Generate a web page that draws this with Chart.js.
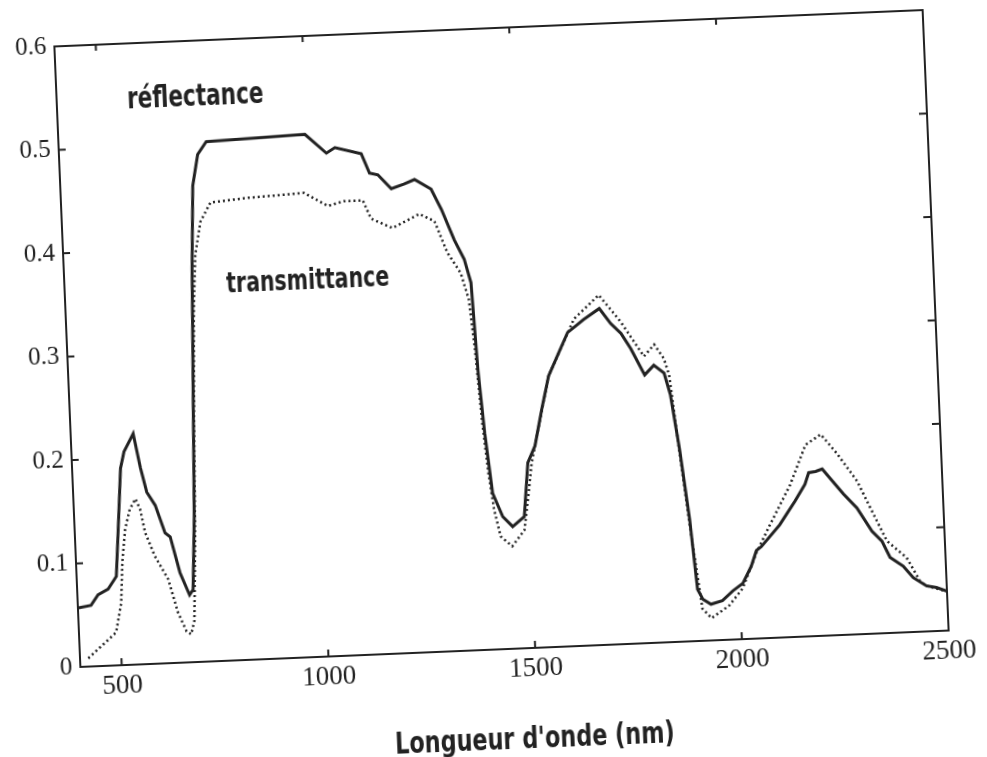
<!DOCTYPE html>
<html>
<head>
<meta charset="utf-8">
<script src="https://cdn.jsdelivr.net/npm/chart.js@4"></script>
<style>
  html, body { margin: 0; padding: 0; background: #fff; overflow: hidden; }
  #wrap {
    position: absolute; left: 0; top: 0; width: 987px; height: 757px;
    transform-origin: 501.5px 338.5px;
    transform: rotate(-2.4deg);
  }
</style>
</head>
<body>
<div id="wrap"><canvas id="myChart" width="987" height="757"></canvas></div>
<script>
// wavelengths (nm) and values
var reflWl = [400, 432, 450, 475, 496, 505, 517, 527, 551, 565, 578, 597, 618, 630, 650, 671, 680, 690, 700, 710, 720, 735, 757, 996, 1046, 1067, 1130, 1148, 1168, 1199, 1230, 1256, 1295, 1318, 1346, 1368, 1382, 1390, 1400, 1413, 1435, 1458, 1487, 1501, 1520, 1540, 1560, 1610, 1650, 1689, 1715, 1739, 1761, 1792, 1815, 1839, 1852, 1869, 1886, 1898, 1910, 1929, 1957, 1983, 2008, 2030, 2044, 2056, 2103, 2142, 2168, 2178, 2195, 2211, 2260, 2291, 2325, 2348, 2366, 2397, 2420, 2451, 2475, 2500];
var reflVal = [0.057, 0.059, 0.069, 0.074, 0.086, 0.13, 0.19, 0.206, 0.223, 0.19, 0.166, 0.153, 0.126, 0.122, 0.087, 0.065, 0.07, 0.14, 0.26, 0.38, 0.46, 0.49, 0.502, 0.505, 0.486, 0.491, 0.484, 0.465, 0.463, 0.449, 0.453, 0.457, 0.447, 0.427, 0.397, 0.378, 0.355, 0.27, 0.209, 0.151, 0.128, 0.118, 0.127, 0.179, 0.195, 0.23, 0.262, 0.303, 0.315, 0.325, 0.31, 0.3, 0.285, 0.259, 0.268, 0.26, 0.239, 0.185, 0.118, 0.05, 0.04, 0.035, 0.038, 0.047, 0.054, 0.07, 0.085, 0.0885, 0.109, 0.131, 0.147, 0.158, 0.159, 0.161, 0.136, 0.122, 0.099, 0.089, 0.073, 0.064, 0.0525, 0.044, 0.042, 0.038];

var transWl = [420, 452, 470, 490, 505, 512, 522, 535, 550, 560, 570, 591, 621, 641, 660, 671, 680, 690, 700, 710, 719, 735, 761, 850, 988, 1044, 1084, 1129, 1147, 1198, 1264, 1300, 1328, 1358, 1375, 1385, 1395, 1405, 1415, 1428, 1455, 1486, 1500, 1510, 1520, 1560, 1627, 1689, 1740, 1792, 1818, 1840, 1851, 1869, 1886, 1908, 1929, 1973, 2007, 2044, 2079, 2132, 2173, 2211, 2249, 2294, 2323, 2360, 2406, 2436, 2451, 2475, 2500];
var transVal = [0.008, 0.019, 0.025, 0.032, 0.06, 0.1, 0.131, 0.15, 0.16, 0.15, 0.127, 0.104, 0.081, 0.049, 0.03, 0.027, 0.04, 0.12, 0.24, 0.34, 0.393, 0.425, 0.443, 0.446, 0.4485, 0.435, 0.439, 0.439, 0.421, 0.411, 0.4235, 0.416, 0.385, 0.365, 0.339, 0.29, 0.22, 0.17, 0.135, 0.109, 0.099, 0.114, 0.15, 0.178, 0.195, 0.262, 0.316, 0.338, 0.311, 0.277, 0.288, 0.274, 0.258, 0.18, 0.11, 0.031, 0.0215, 0.033, 0.049, 0.083, 0.109, 0.147, 0.185, 0.1945, 0.175, 0.148, 0.122, 0.089, 0.072, 0.049, 0.044, 0.041, 0.038];

var xTicks = [500, 1000, 1500, 2000, 2500];
var yTicks = [0, 0.1, 0.2, 0.3, 0.4, 0.5, 0.6];

var ink = '#222';
var serif = "'Liberation Serif', 'DejaVu Serif', serif";
var sans = "'DejaVu Sans', 'Liberation Sans', sans-serif";

function pts(xs, ys) {
  return xs.map(function (w, i) { return { x: w, y: ys[i] }; });
}

// narrow bold label, squeezed sideways like the font of the scan
function narrowText(ctx, text, px, py, size) {
  ctx.save();
  ctx.translate(px, py);
  ctx.scale(0.72, 1);
  ctx.font = 'bold ' + size + 'px ' + sans;
  ctx.fillText(text, 0, 0);
  ctx.restore();
}

// box, inward ticks and the hand-set labels of the original figure
var frame = {
  id: 'frame',
  afterDraw: function (chart) {
    var ctx = chart.ctx, a = chart.chartArea;
    var x = chart.scales.x, y = chart.scales.y;
    ctx.save();
    ctx.strokeStyle = ink;
    ctx.lineWidth = 2;
    ctx.strokeRect(a.left, a.top, a.right - a.left, a.bottom - a.top);
    ctx.beginPath();
    xTicks.forEach(function (v) {
      var px = x.getPixelForValue(v);
      ctx.moveTo(px, a.bottom); ctx.lineTo(px, a.bottom - 7);
      ctx.moveTo(px, a.top); ctx.lineTo(px, a.top + 6);
    });
    yTicks.forEach(function (v) {
      var py = y.getPixelForValue(v);
      ctx.moveTo(a.left, py); ctx.lineTo(a.left + 7, py);
      ctx.moveTo(a.right, py); ctx.lineTo(a.right - 8, py);
    });
    ctx.stroke();

    ctx.fillStyle = ink;
    ctx.textAlign = 'center';
    ctx.textBaseline = 'middle';
    narrowText(ctx, 'réflectance', x.getPixelForValue(735), y.getPixelForValue(0.545), 30);
    narrowText(ctx, 'transmittance', x.getPixelForValue(988), y.getPixelForValue(0.363), 28.5);
    narrowText(ctx, "Longueur d'onde (nm)", x.getPixelForValue(1490), a.bottom + 92, 31);
    ctx.restore();
  }
};

var ctx = document.getElementById('myChart').getContext('2d');
var myChart = new Chart(ctx, {
  type: 'line',
  data: {
    datasets: [{
      label: 'réflectance',
      data: pts(reflWl, reflVal),
      borderColor: ink,
      borderWidth: 3,
      pointRadius: 0,
      tension: 0
    }, {
      label: 'transmittance',
      data: pts(transWl, transVal),
      borderColor: ink,
      borderWidth: 2.5,
      borderDash: [2, 3],
      pointRadius: 0,
      tension: 0
    }]
  },
  options: {
    responsive: false,
    animation: false,
    layout: { padding: { left: 0, right: 51, top: 28, bottom: 0 } },
    plugins: {
      legend: { display: false },
      tooltip: { enabled: false }
    },
    scales: {
      x: {
        type: 'linear',
        min: 400,
        max: 2500,
        grid: { display: false, drawTicks: false },
        border: { display: false },
        afterBuildTicks: function (s) { s.ticks = xTicks.map(function (v) { return { value: v }; }); },
        afterFit: function (s) { s.height = 108; },
        ticks: {
          color: ink,
          padding: 5,
          maxRotation: 0,
          font: { family: serif, size: 27 },
          callback: function (v) { return String(v); }
        }
      },
      y: {
        min: 0,
        max: 0.6,
        grid: { display: false, drawTicks: false },
        border: { display: false },
        afterBuildTicks: function (s) { s.ticks = yTicks.map(function (v) { return { value: v }; }); },
        afterFit: function (s) { s.width = 67; },
        ticks: {
          color: ink,
          padding: 8,
          font: { family: serif, size: 25 },
          callback: function (v) { return v === 0 ? '0' : v.toFixed(1); }
        }
      }
    }
  },
  plugins: [frame]
});
</script>
</body>
</html>
